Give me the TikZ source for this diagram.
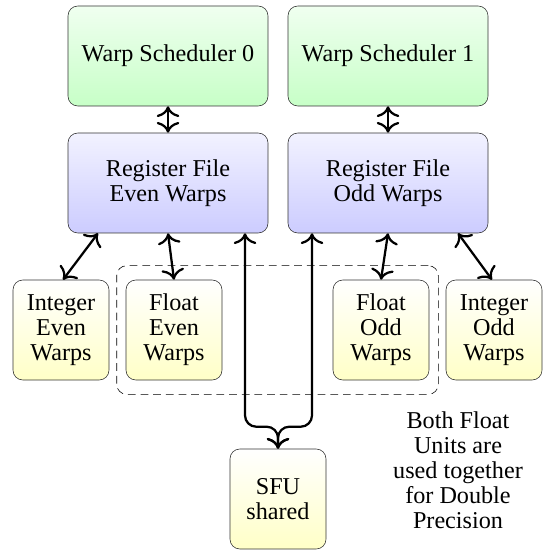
\documentclass[tikz,border=0pt]{standalone}
\usepackage{fontspec}
\setmainfont{Liberation Serif}
\usetikzlibrary{fit,arrows.meta}

\tikzset{
  unit/.style={draw=black!80, rounded corners=7pt, align=center, minimum height=2.5cm,
    font=\fontsize{17.2}{17.8}\selectfont},
  sched/.style={unit, minimum width=5cm, top color=green!6, bottom color=green!22},
  regfile/.style={unit, minimum width=5cm, top color=blue!5, bottom color=blue!20},
  exec/.style={unit, minimum width=2.4cm, top color=white, bottom color=yellow!22},
  link/.style={{To[scale=1.5]}-{To[scale=1.5]}, line width=1.6pt},
}

\begin{document}
\begin{tikzpicture}[line join=round]
    \useasboundingbox (0,0) rectangle (13.625,-13.75);

    % Schedulers and register files
    \node[sched] (s0) at (4.2,-1.4) {Warp Scheduler 0};
    \node[sched] (s1) at (9.7,-1.4) {Warp Scheduler 1};
    \node[regfile] (rf0) at (4.2,-4.575) {Register File\\Even Warps};
    \node[regfile] (rf1) at (9.7,-4.575) {Register File\\Odd Warps};

    % Execution units
    \node[exec] (inte) at (1.525,-8.25) {Integer\\Even\\Warps};
    \node[exec] (flte) at (4.35,-8.25) {Float\\Even\\Warps};
    \node[exec] (flto) at (9.525,-8.25) {Float\\Odd\\Warps};
    \node[exec] (into) at (12.35,-8.25) {Integer\\Odd\\Warps};
    \node[exec] (sfu) at (6.95,-12.475) {SFU\\shared};

    % Float pair used for double precision
    \node[draw, dash pattern=on 5.5pt off 3.5pt, rounded corners=7pt,
      inner xsep=0.225cm, inner ysep=0.35cm, fit=(flte) (flto)] (dbl) {};
    \node[align=center, font=\fontsize{17.2}{17.8}\selectfont] (note) at (11.45,-11.75)
      {Both Float\\Units are\\used together\\for Double\\Precision};

    % Connections
    \draw[link] (s0) -- (rf0);
    \draw[link] (s1) -- (rf1);
    \draw[link] ([xshift=-1.75cm]rf0.south) -- ([xshift=0.05cm]inte.north);
    \draw[link] (rf0.south) -- (flte.north);
    \draw[link] (rf1.south) -- (flto.north);
    \draw[link] ([xshift=1.75cm]rf1.south) -- ([xshift=-0.05cm]into.north);
    \draw[link, rounded corners=8pt] ([xshift=1.925cm]rf0.south) |- ([yshift=0.55cm]sfu.north) -- (sfu.north);
    \draw[link, rounded corners=8pt] ([xshift=-1.9cm]rf1.south) |- ([yshift=0.55cm]sfu.north) -- (sfu.north);
  \end{tikzpicture}
\end{document}
